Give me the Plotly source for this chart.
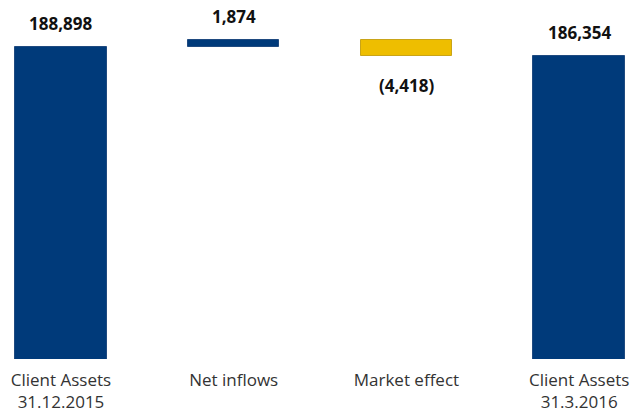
import plotly.graph_objects as go

categories = ["Client Assets<br>31.12.2015", "Net inflows", "Market effect", "Client Assets<br>31.3.2016"]
measures = ["absolute", "relative", "relative", "total"]
values = [188898, 1874, -4418, 186354]
value_labels = ["188,898", "1,874", "(4,418)", "186,354"]

BLUE = "#003A7A"
YELLOW = "#EEBE00"

# compute bases for waterfall
bases, heights, colors = [], [], []
running = 0
for m, v in zip(measures, values):
    if m == "absolute":
        bases.append(0); heights.append(v); running = v; colors.append(BLUE)
    elif m == "relative":
        bases.append(running); heights.append(v); running += v
        colors.append(BLUE if v >= 0 else YELLOW)
    else:
        bases.append(0); heights.append(running); colors.append(BLUE)

xs = list(range(len(categories)))

fig = go.Figure()
fig.add_trace(go.Bar(
    x=xs, y=heights, base=bases, width=0.53,
    marker=dict(color=colors, line=dict(color=["#1F4A80", "#1F4A80", "#C9A418", "#1F4A80"], width=1)),
    hoverinfo="skip", showlegend=False,
))

for x, b, h, lab, v in zip(xs, bases, heights, value_labels, values):
    if v >= 0:
        fig.add_annotation(x=x, y=b + h, text=f"<b>{lab}</b>", showarrow=False,
                           yanchor="bottom", yshift=10,
                           font=dict(family="Open Sans", size=17, color="#111111"))
    else:
        fig.add_annotation(x=x, y=b + h, text=f"<b>{lab}</b>", showarrow=False,
                           yanchor="top", yshift=-16,
                           font=dict(family="Open Sans", size=17, color="#111111"))

s = 280.0
top_val = values[0]
ymax = top_val + 47 * s
ymin = top_val - 312 * s

fig.update_layout(
    width=632, height=412,
    margin=dict(l=0, r=0, t=0, b=53),
    paper_bgcolor="white", plot_bgcolor="white",
    xaxis=dict(range=[-0.353, 3.306], tickvals=xs, ticktext=categories,
               showgrid=False, zeroline=False, showline=False, ticks="",
               automargin=False, ticklabelstandoff=9,
               tickfont=dict(family="Open Sans", size=17, color="#333333")),
    yaxis=dict(range=[ymin, ymax], visible=False, showgrid=False, zeroline=False),
    bargap=0,
)

fig.write_html("out.html", config={"displayModeBar": False},
               post_script="document.body.style.margin='0px';")
